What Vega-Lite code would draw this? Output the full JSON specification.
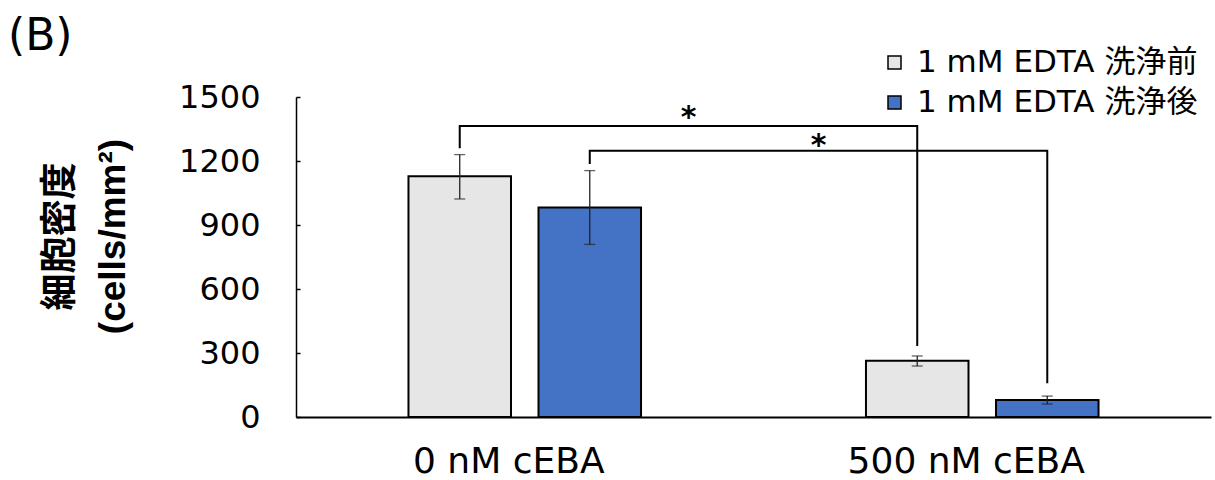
{
  "$schema": "https://vega.github.io/schema/vega-lite/v6.json",
  "width": 915,
  "height": 320,
  "autosize": "none",
  "padding": {"left": 296, "top": 97, "right": 4, "bottom": 63},
  "background": "white",
  "title": {"text": "(B)", "anchor": "start", "frame": "group", "fontSize": 44, "font": "DejaVu Sans", "fontWeight": "normal", "color": "black", "dx": -288, "offset": 0, "dy": 47, "baseline": "alphabetic"},
  "config": {"view": {"stroke": null}, "font": "DejaVu Sans"},
  "datasets": {
    "bars": [
      {"group": "0 nM cEBA", "series": "1 mM EDTA 洗浄前", "value": 1128, "lo": 1022, "hi": 1230},
      {"group": "0 nM cEBA", "series": "1 mM EDTA 洗浄後", "value": 982, "lo": 809, "hi": 1155},
      {"group": "500 nM cEBA", "series": "1 mM EDTA 洗浄前", "value": 264, "lo": 239, "hi": 286},
      {"group": "500 nM cEBA", "series": "1 mM EDTA 洗浄後", "value": 80, "lo": 61, "hi": 98}
    ],
    "brackets": [
      {"bracket": "a", "ord": 1, "group": "0 nM cEBA", "series": "1 mM EDTA 洗浄前", "y": 1260},
      {"bracket": "a", "ord": 2, "group": "0 nM cEBA", "series": "1 mM EDTA 洗浄前", "y": 1364},
      {"bracket": "a", "ord": 3, "group": "500 nM cEBA", "series": "1 mM EDTA 洗浄前", "y": 1364},
      {"bracket": "a", "ord": 4, "group": "500 nM cEBA", "series": "1 mM EDTA 洗浄前", "y": 333},
      {"bracket": "b", "ord": 1, "group": "0 nM cEBA", "series": "1 mM EDTA 洗浄後", "y": 1186},
      {"bracket": "b", "ord": 2, "group": "0 nM cEBA", "series": "1 mM EDTA 洗浄後", "y": 1248},
      {"bracket": "b", "ord": 3, "group": "500 nM cEBA", "series": "1 mM EDTA 洗浄後", "y": 1248},
      {"bracket": "b", "ord": 4, "group": "500 nM cEBA", "series": "1 mM EDTA 洗浄後", "y": 158}
    ],
    "stars": [
      {"bracket": "a", "group": "500 nM cEBA", "label": "*", "y": 1425},
      {"bracket": "b", "group": "500 nM cEBA", "label": "*", "y": 1295}
    ]
  },
  "encoding": {
    "x": {
      "field": "group", "type": "nominal",
      "scale": {"domain": ["0 nM cEBA", "500 nM cEBA"], "paddingInner": 0, "paddingOuter": 0},
      "axis": {"title": null, "labelAngle": 0, "labelFontSize": 36, "labelFont": "DejaVu Sans", "labelColor": "black", "labelPadding": 27, "labelOffset": -16, "ticks": false, "domainColor": "black", "domainWidth": 2, "labelLimit": 400}
    }
  },
  "layer": [
    {
      "data": {"name": "bars"},
      "mark": {"type": "bar", "stroke": "black", "strokeWidth": 2},
      "encoding": {
        "xOffset": {"field": "series", "type": "nominal", "scale": {"domain": ["1 mM EDTA 洗浄前", "1 mM EDTA 洗浄後"], "paddingInner": 0.2115, "paddingOuter": 0.865}},
        "y": {
          "field": "value", "type": "quantitative",
          "scale": {"domain": [0, 1500], "nice": false},
          "axis": {
            "values": [0, 300, 600, 900, 1200, 1500],
            "format": "d",
            "grid": false,
            "labelFontSize": 32, "labelFont": "DejaVu Sans", "labelColor": "black", "labelPadding": 40,
            "tickSize": -4, "tickColor": "black", "tickWidth": 1.5,
            "domainColor": "black", "domainWidth": 1.5,
            "title": ["細胞密度", "(cells/mm²)"],
            "titleFont": "Liberation Sans, Noto Sans CJK JP, sans-serif",
            "titleFontSize": 37, "titleFontWeight": "bold", "titleColor": "black",
            "titleLineHeight": 53, "titleX": -217, "titleY": 139, "titleAngle": -90, "titleBaseline": "bottom", "titleAlign": "center"
          }
        },
        "color": {
          "field": "series", "type": "nominal",
          "scale": {"domain": ["1 mM EDTA 洗浄前", "1 mM EDTA 洗浄後"], "range": ["#E7E6E6", "#4472C4"]},
          "legend": {
            "title": null, "orient": "none", "legendX": 583, "legendY": -50, "padding": 0,
            "symbolType": "square", "symbolSize": 169, "symbolStrokeColor": "black", "symbolStrokeWidth": 1.5, "symbolOpacity": 1,
            "labelFontSize": 31, "labelFont": "DejaVu Sans, Noto Sans CJK JP", "labelColor": "black", "labelOffset": 7, "labelLimit": 0, "rowPadding": 8
          }
        }
      }
    },
    {
      "data": {"name": "bars"},
      "mark": {"type": "rule", "color": "#222222", "strokeWidth": 1.3},
      "encoding": {
        "xOffset": {"field": "series", "type": "nominal"},
        "y": {"field": "lo", "type": "quantitative"},
        "y2": {"field": "hi"}
      }
    },
    {
      "data": {"name": "bars"},
      "mark": {"type": "tick", "color": "#222222", "thickness": 1.3, "size": 11},
      "encoding": {
        "xOffset": {"field": "series", "type": "nominal"},
        "y": {"field": "lo", "type": "quantitative"}
      }
    },
    {
      "data": {"name": "bars"},
      "mark": {"type": "tick", "color": "#222222", "thickness": 1.3, "size": 11},
      "encoding": {
        "xOffset": {"field": "series", "type": "nominal"},
        "y": {"field": "hi", "type": "quantitative"}
      }
    },
    {
      "data": {"name": "brackets"},
      "mark": {"type": "line", "color": "black", "strokeWidth": 2, "interpolate": "linear"},
      "encoding": {
        "xOffset": {"field": "series", "type": "nominal"},
        "y": {"field": "y", "type": "quantitative"},
        "detail": {"field": "bracket"},
        "order": {"field": "ord", "type": "quantitative"}
      }
    },
    {
      "data": {"name": "stars"},
      "transform": [{"filter": "datum.bracket == 'a'"}],
      "mark": {"type": "text", "fontSize": 30, "fontWeight": "bold", "font": "DejaVu Sans", "color": "black", "dx": -65, "dy": 5, "baseline": "middle"},
      "encoding": {
        "x": {"field": "group", "type": "nominal", "bandPosition": 0},
        "y": {"field": "y", "type": "quantitative"},
        "text": {"field": "label"}
      }
    },
    {
      "data": {"name": "stars"},
      "transform": [{"filter": "datum.bracket == 'b'"}],
      "mark": {"type": "text", "fontSize": 30, "fontWeight": "bold", "font": "DejaVu Sans", "color": "black", "dx": 65, "dy": 5, "baseline": "middle"},
      "encoding": {
        "x": {"field": "group", "type": "nominal", "bandPosition": 0},
        "y": {"field": "y", "type": "quantitative"},
        "text": {"field": "label"}
      }
    }
  ]
}
